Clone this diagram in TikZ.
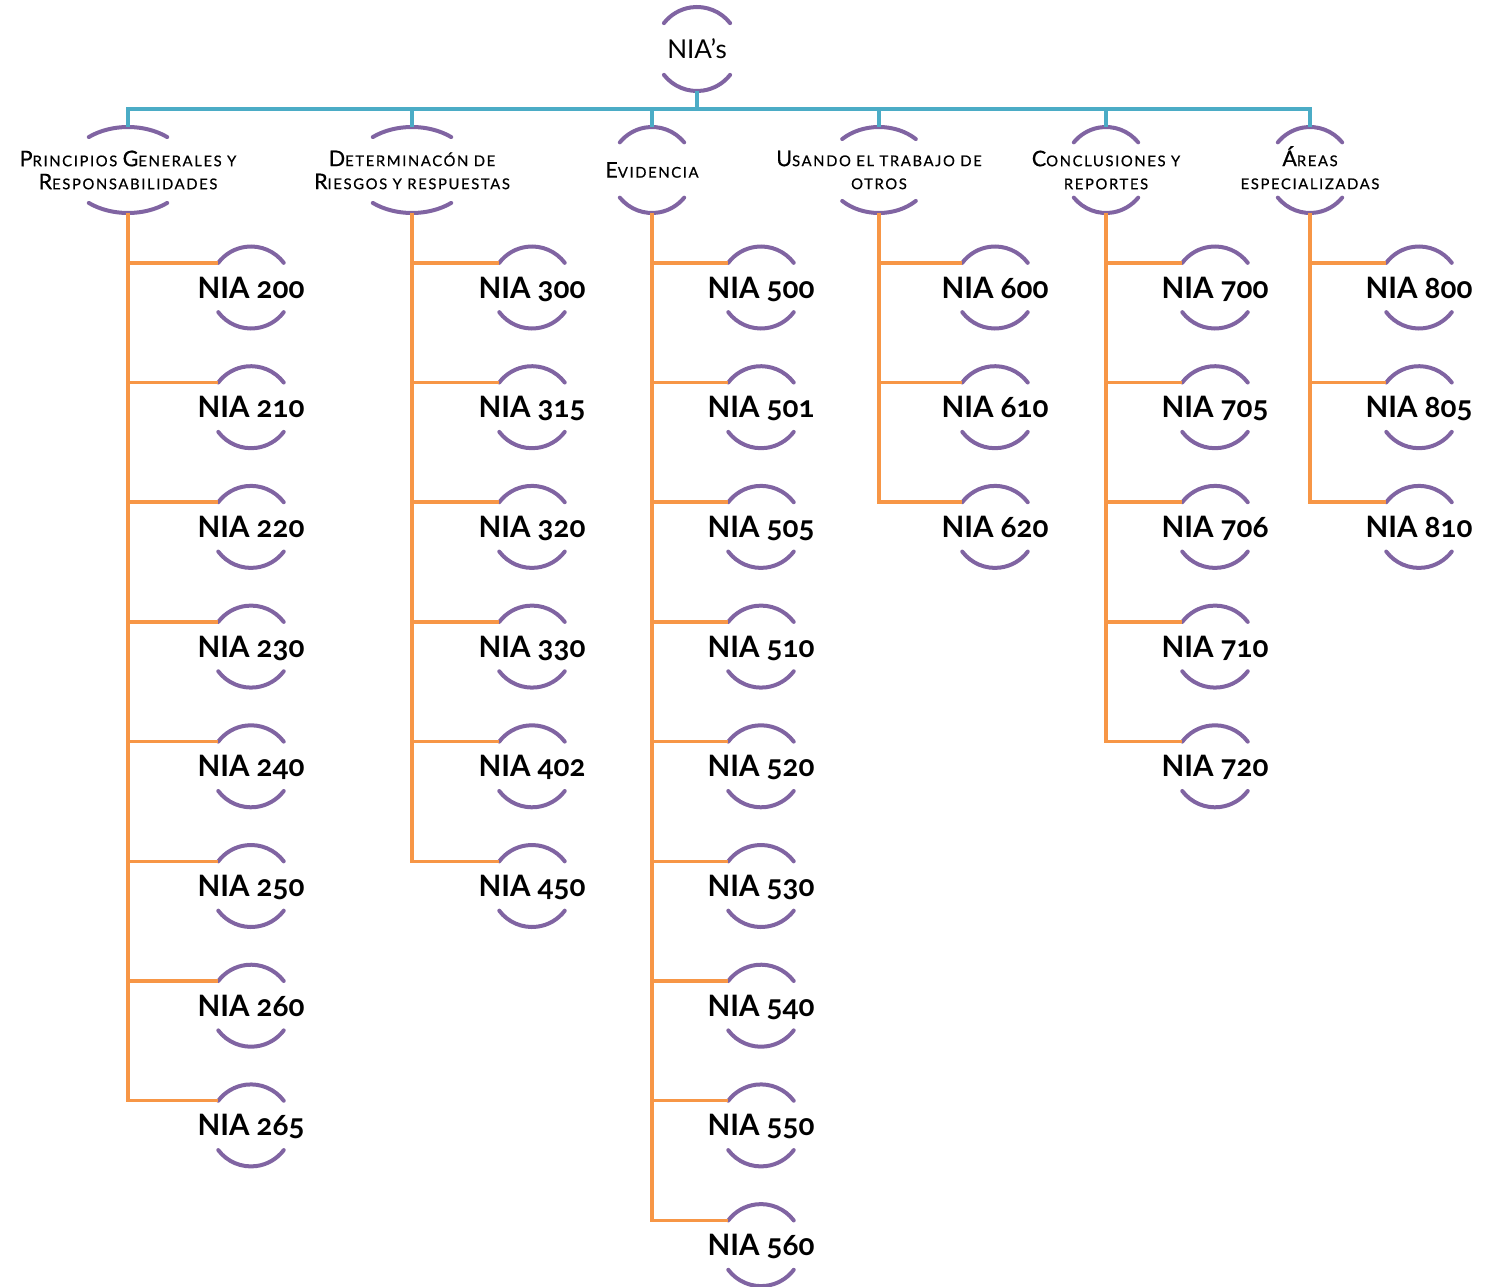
\documentclass[tikz,border=0pt]{standalone}
\usepackage{fontspec}
\setmainfont{Lato}[Numbers=OldStyle]
\newfontfamily\catfont{Lato}[LetterSpace=11,FakeBold=0.6]
\usetikzlibrary{calc}
\definecolor{tealc}{HTML}{4BACC6}
\definecolor{orangec}{HTML}{F79646}
\definecolor{purplec}{HTML}{8064A2}
\tikzset{
  arcline/.style={draw=purplec,line width=4pt,line cap=round},
  busline/.style={draw=tealc,line width=3.5pt},
  branchline/.style={draw=orangec,line width=3.5pt},
  leaftxt/.style={font=\fontsize{29.5}{32}\selectfont\bfseries,inner sep=0pt,text height=21pt,text depth=0pt},
  cattxt/.style={font=\catfont\fontsize{14.8}{23}\selectfont,align=center,inner sep=0pt},
  roottxt/.style={font=\fontsize{26}{30}\selectfont,inner sep=0pt,text height=18.5pt,text depth=0pt}
}
\newcommand\B[1]{{\fontsize{21.5}{23}\selectfont #1}}
% leaf: name, x, y(px), text
\newcommand\leaf[4]{%
  \node[leaftxt] (#1) at (#2,{-(#3)}) {#4};
  \draw[arcline] ($(#1.center)+(37:41pt)$) arc[start angle=37,end angle=143,radius=41pt];
  \draw[arcline] ($(#1.center)+(217:41pt)$) arc[start angle=217,end angle=323,radius=41pt];
  \coordinate (#1-tl) at ($(#1.center)+(143:41pt)$);
}
% category: name, x, xradius, angle, text
\newcommand\cat[5]{%
  \node[cattxt] (#1) at (#2,-170) {#5};
  \draw[arcline] ($(#1.center)+({#3*cos(#4)},{43*sin(#4)})$) arc[start angle=#4,end angle={180-#4},x radius=#3pt,y radius=43pt];
  \draw[arcline] ($(#1.center)+({#3*cos(180+#4)},{43*sin(180+#4)})$) arc[start angle={180+#4},end angle={360-#4},x radius=#3pt,y radius=43pt];
  \coordinate (#1-t) at ($(#1.center)+(0,43)$);
  \coordinate (#1-b) at ($(#1.center)+(0,-43)$);
}
\begin{document}
\begin{tikzpicture}[x=1pt,y=1pt]
\useasboundingbox (0,0) rectangle (1491,-1287);
% root
\node[roottxt] (root) at (697,-49) {NIA’s};
\draw[arcline] ($(root.center)+(38:42pt)$) arc[start angle=38,end angle=142,radius=42pt];
\draw[arcline] ($(root.center)+(218:42pt)$) arc[start angle=218,end angle=322,radius=42pt];
\coordinate (root-b) at ($(root.center)+(0,-42)$);
% categories
\cat{c1}{128}{61}{50}{\B{P}RINCIPIOS \B{G}ENERALES Y\\\B{R}ESPONSABILIDADES}
\cat{c2}{412}{61}{50}{\B{D}ETERMINACÓN DE\\\B{R}IESGOS Y RESPUESTAS}
\cat{c3}{652}{42}{40}{\B{E}VIDENCIA}
\cat{c4}{879}{53}{46}{\B{U}SANDO EL TRABAJO DE\\OTROS}
\cat{c5}{1106}{42}{40}{\B{C}ONCLUSIONES Y\\REPORTES}
\cat{c6}{1310}{42}{40}{\smash{\B{Á}}\vphantom{\B{A}}REAS\\ESPECIALIZADAS}
% teal bus
\foreach \c in {c1,c2,c3,c4,c5,c6}{
  \draw[busline] (root-b) -- ++(0,-18) -| (\c-t);
}
% leaves
\foreach \n [count=\i from 0] in {200,210,220,230,240,250,260,265}{
  \leaf{n\n}{251}{287.5+119.7*\i}{NIA \n}
  \draw[branchline] (c1-b) |- (n\n-tl);
}
\foreach \n [count=\i from 0] in {300,315,320,330,402,450}{
  \leaf{n\n}{532}{287.5+119.7*\i}{NIA \n}
  \draw[branchline] (c2-b) |- (n\n-tl);
}
\foreach \n [count=\i from 0] in {500,501,505,510,520,530,540,550,560}{
  \leaf{n\n}{761}{287.5+119.7*\i}{NIA \n}
  \draw[branchline] (c3-b) |- (n\n-tl);
}
\foreach \n [count=\i from 0] in {600,610,620}{
  \leaf{n\n}{995}{287.5+119.7*\i}{NIA \n}
  \draw[branchline] (c4-b) |- (n\n-tl);
}
\foreach \n [count=\i from 0] in {700,705,706,710,720}{
  \leaf{n\n}{1215}{287.5+119.7*\i}{NIA \n}
  \draw[branchline] (c5-b) |- (n\n-tl);
}
\foreach \n [count=\i from 0] in {800,805,810}{
  \leaf{n\n}{1419}{287.5+119.7*\i}{NIA \n}
  \draw[branchline] (c6-b) |- (n\n-tl);
}
\end{tikzpicture}
\end{document}
